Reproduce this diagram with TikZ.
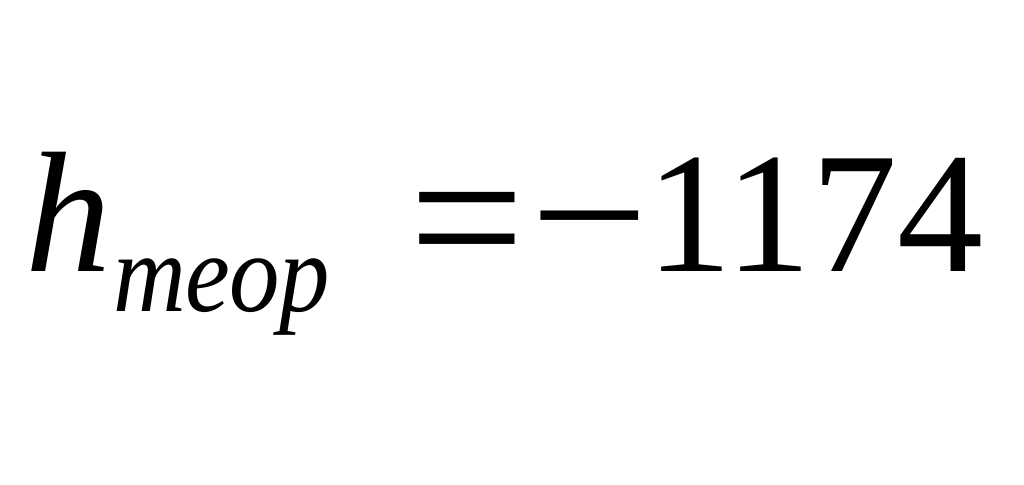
\documentclass[tikz,border=0pt]{standalone}
\usepackage{fontspec}
\setmainfont{Liberation Serif}
\tikzset{
  big/.style={inner sep=0pt, outer sep=0pt, font=\fontsize{172}{172}\selectfont},
  sub/.style={inner sep=0pt, outer sep=0pt, font=\fontsize{112}{112}\selectfont\itshape},
}
\begin{document}
\begin{tikzpicture}[x=1pt,y=1pt]
\useasboundingbox[fill=white] (0,0) rectangle (1024,484);
\node[big, anchor=base west] (h) at (25,212) {\itshape h};
\node[sub, anchor=base west] (s) at (113,172) {\scalebox{0.9}[1]{теор}};
\node[big, anchor=base west] (eq) at (409.6,196.6) {\scalebox{1.19}[1.21]{=}};
\node[big, anchor=base west] (minus) at (530,205.5) {\scalebox{1.22}[1.1]{−}};
\node[big, anchor=base west] (num) at (646,212) {1174};
\end{tikzpicture}
\end{document}
